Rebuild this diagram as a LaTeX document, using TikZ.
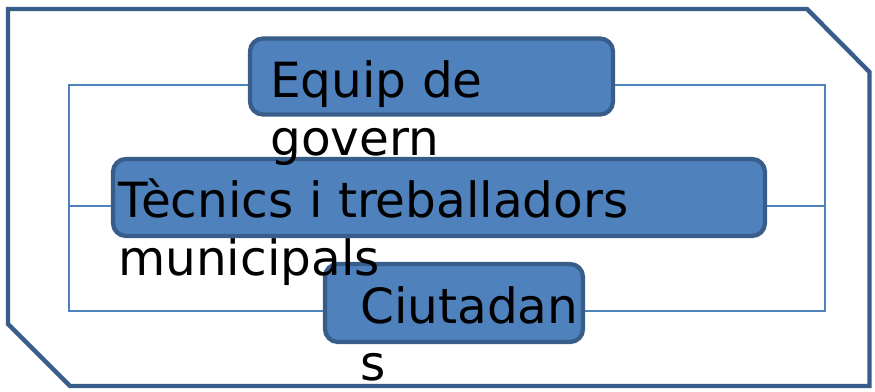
\documentclass[tikz,border=0pt]{standalone}
\usepackage{fontspec}
\setmainfont{DejaVu Sans}
\definecolor{boxfill}{HTML}{4F81BD}
\definecolor{boxline}{HTML}{385D8A}
\begin{document}
\begin{tikzpicture}[x=1pt,y=-1pt,
  box/.style={draw=boxline, line width=4.3pt, fill=boxfill, rounded corners=13pt, inner sep=0pt},
  conn/.style={draw=boxfill, line width=1.4pt},
  lbl/.style={anchor=base west, inner sep=0pt, font=\fontsize{48.5}{56}\selectfont, text=black}]
\useasboundingbox (0,0) rectangle (875,391);
\draw[boxline, line width=4.4pt, line join=miter] (8,9) -- (807,9) -- (869.5,72) -- (869.5,386) -- (70,386) -- (8,324) -- cycle;
% boxes
\node[box, minimum width=363pt, minimum height=76pt] (b1) at (431.5,76.5) {};
\node[box, minimum width=652pt, minimum height=77pt] (b2) at (439,197.5) {};
\node[box, minimum width=258pt, minimum height=78pt] (b3) at (454,303) {};
% connectors
\coordinate (L1) at (69,85);
\coordinate (L2) at (69,206);
\coordinate (L3) at (69,311);
\coordinate (R1) at (825,85);
\coordinate (R2) at (825,206);
\coordinate (R3) at (825,311);
\draw[conn] (L1 -| b1.west) -- (L1) -- (L3) -- (L3 -| b3.west);
\draw[conn] (L2) -- (L2 -| b2.west);
\draw[conn] (R1 -| b1.east) -- (R1) -- (R3) -- (R3 -| b3.east);
\draw[conn] (R2) -- (R2 -| b2.east);
% labels
\node[lbl] (t1a) at (270,97) {Equip de};
\node[lbl] (t1b) at (270,155) {govern};
\node[lbl] (t2a) at (118,217) {Tècnics i treballadors};
\node[lbl] (t2b) at (118,275) {municipals};
\node[lbl] (t3a) at (360,323) {Ciutadan};
\node[lbl] (t3b) at (360,380) {s};
\end{tikzpicture}
\end{document}
